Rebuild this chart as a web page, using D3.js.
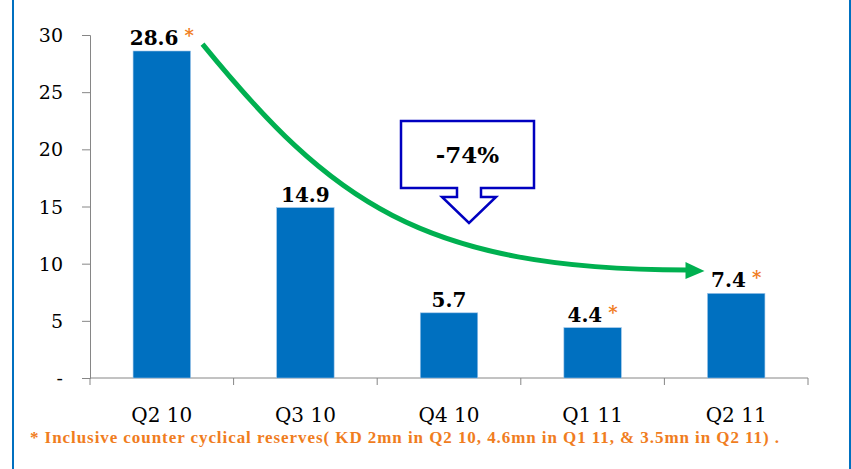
<!DOCTYPE html>
<html>
<head>
<meta charset="utf-8">
<script src="https://cdn.jsdelivr.net/npm/d3@7"></script>
<style>
  body { margin: 0; background: #fff; }
  svg { display: block; }
  text { font-family: "DejaVu Serif", "Liberation Serif", serif; }
</style>
</head>
<body>
<svg id="chart"></svg>
<script>
let width = 851;
let height = 469;

// chart data
let quarters = ["Q2 10", "Q3 10", "Q4 10", "Q1 11", "Q2 11"];
let profits = [28.6, 14.9, 5.7, 4.4, 7.4];
let starred = [true, false, false, true, true]; // includes counter cyclical reserves
let yTicks = [0, 5, 10, 15, 20, 25, 30];
let yTickLabels = ["-", "5", "10", "15", "20", "25", "30"];
let changeLabel = "-74%";
let footnote = "* Inclusive counter cyclical reserves( KD 2mn in Q2 10, 4.6mn in Q1 11, & 3.5mn in Q2 11) .";

let margin = {left: 90, right: 43, top: 35, bottom: 91};

let svg = d3.select("#chart")
    .attr("width", width)
    .attr("height", height);

// frame lines left and right
svg.append("rect").attr("x", 12).attr("y", 0).attr("width", 2).attr("height", height).attr("fill", "#0070C0");
svg.append("rect").attr("x", 849).attr("y", 0).attr("width", 2).attr("height", height).attr("fill", "#0070C0");

let x = d3.scaleBand()
    .domain(quarters)
    .range([margin.left, width - margin.right])
    .paddingInner(0.6)
    .paddingOuter(0.3);

let y = d3.scaleLinear()
    .domain([0, 30])
    .range([height - margin.bottom, margin.top]);

// y axis
let yAxis = svg.append("g")
    .attr("transform", "translate(" + margin.left + ",0)")
    .call(d3.axisLeft(y).tickValues(yTicks).tickSize(8).tickPadding(19)
        .tickFormat((d, i) => yTickLabels[i]));
yAxis.select(".domain").attr("stroke", "#868686");
yAxis.selectAll(".tick line").attr("stroke", "#868686");
yAxis.selectAll("text").attr("fill", "#000").style("font-size", "19px")
    .style("font-family", "DejaVu Serif").attr("dy", "0.35em");

// x axis line and ticks at band edges
let step = x.step();
let x0 = margin.left;
svg.append("line")
    .attr("x1", x0).attr("x2", width - margin.right)
    .attr("y1", y(0)).attr("y2", y(0))
    .attr("stroke", "#868686");
svg.append("g").selectAll("line")
    .data(d3.range(quarters.length + 1))
    .enter().append("line")
    .attr("x1", i => x0 + i * step).attr("x2", i => x0 + i * step)
    .attr("y1", y(0)).attr("y2", y(0) + 7)
    .attr("stroke", "#868686");

svg.append("g").selectAll("text")
    .data(quarters)
    .enter().append("text")
    .attr("x", d => x(d) + x.bandwidth() / 2)
    .attr("y", y(0) + 44)
    .attr("text-anchor", "middle")
    .style("font-size", "20px")
    .attr("fill", "#000")
    .text(d => d);

// bars
svg.append("g").selectAll("rect")
    .data(profits)
    .enter().append("rect")
    .attr("x", (d, i) => x(quarters[i]))
    .attr("y", d => y(d))
    .attr("width", x.bandwidth())
    .attr("height", d => y(0) - y(d))
    .attr("fill", "#0070C0")
    .attr("stroke", "#9cc3e8")
    .attr("stroke-width", 0.6);

// value labels
let labels = svg.append("g").selectAll("text")
    .data(profits)
    .enter().append("text")
    .attr("x", (d, i) => x(quarters[i]) + x.bandwidth() / 2)
    .attr("y", d => y(d) - 6)
    .attr("text-anchor", "middle")
    .style("font-size", "20px")
    .style("font-weight", "bold")
    .attr("fill", "#000");
labels.append("tspan").text(d => d.toFixed(1));
labels.filter((d, i) => starred[i]).append("tspan")
    .attr("dx", 6).attr("dy", -3)
    .attr("fill", "#F07D1E")
    .style("font-size", "18px")
    .text("*");

// green trend arrow from first bar label to last bar label
let xs = x(quarters[0]) + x.bandwidth() + 12;
let ys = y(29.2);
let xe = x(quarters[4]) - 20;
let ye = y(9.45);
let trend = d3.path();
trend.moveTo(xs, ys);
trend.bezierCurveTo(330, 200, 420, 270, xe, ye);
svg.append("path")
    .attr("d", trend.toString())
    .attr("fill", "none")
    .attr("stroke", "#00B050")
    .attr("stroke-width", 5);
svg.append("path")
    .attr("d", "M" + (xe - 2) + "," + (ye - 8) + "L" + (xe + 17) + "," + (ye + 1) + "L" + (xe - 2) + "," + (ye + 9) + "Z")
    .attr("fill", "#00B050");

// callout with down arrow
let bx = 401, by = 121, bw = 133, bh = 67;
let cx = 469;
let callout = d3.path();
callout.moveTo(bx, by);
callout.lineTo(bx + bw, by);
callout.lineTo(bx + bw, by + bh);
callout.lineTo(cx + 12, by + bh);
callout.lineTo(cx + 12, by + bh + 9);
callout.lineTo(cx + 27, by + bh + 9);
callout.lineTo(cx, by + bh + 35);
callout.lineTo(cx - 27, by + bh + 9);
callout.lineTo(cx - 12, by + bh + 9);
callout.lineTo(cx - 12, by + bh);
callout.lineTo(bx, by + bh);
callout.closePath();
svg.append("path")
    .attr("d", callout.toString())
    .attr("fill", "#fff")
    .attr("stroke", "#0000C0")
    .attr("stroke-width", 2.5);
svg.append("text")
    .attr("x", bx + bw / 2)
    .attr("y", 163)
    .attr("text-anchor", "middle")
    .style("font-size", "23px")
    .style("font-weight", "bold")
    .attr("fill", "#000")
    .text(changeLabel);

// footnote
svg.append("text")
    .attr("x", 30)
    .attr("y", 443)
    .attr("textLength", 749)
    .attr("lengthAdjust", "spacing")
    .style("font-family", "Liberation Serif")
    .style("font-size", "17px")
    .style("font-weight", "bold")
    .attr("fill", "#F07D1E")
    .text(footnote);
</script>
</body>
</html>
